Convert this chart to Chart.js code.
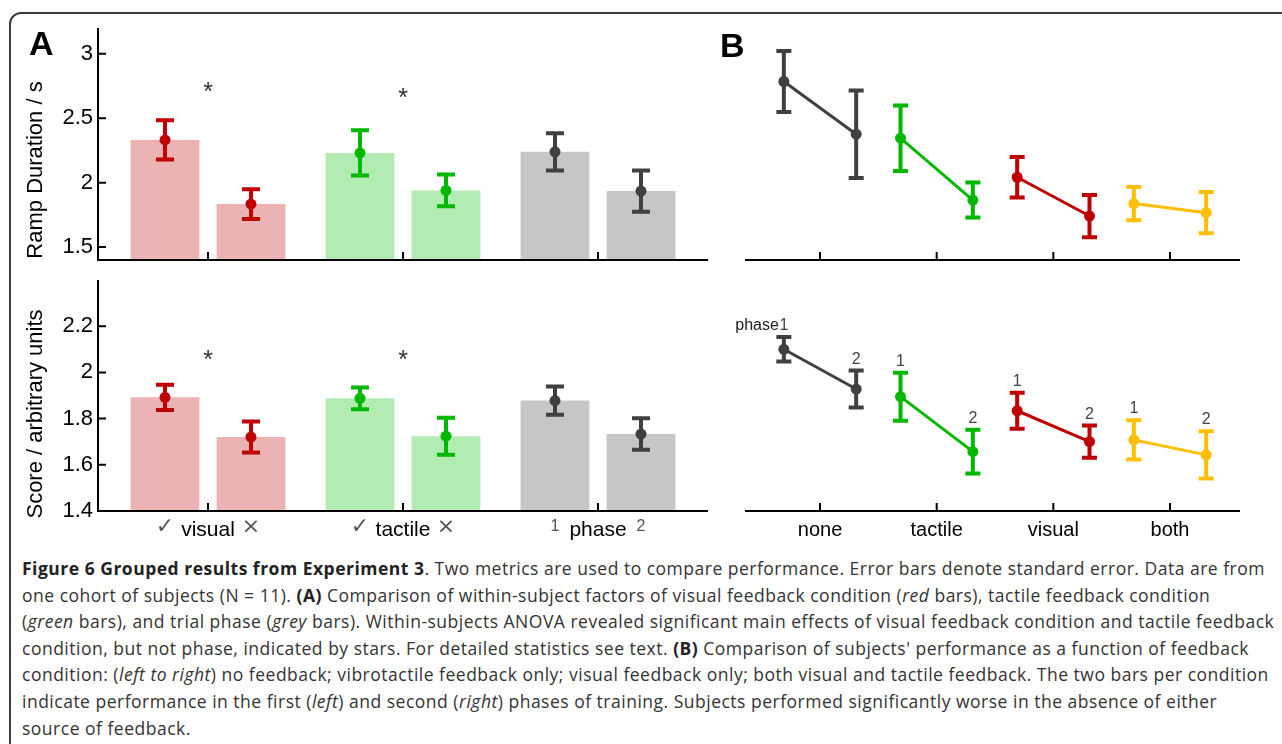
<!DOCTYPE html>
<html>
<head>
<meta charset="utf-8">
<script src="https://cdn.jsdelivr.net/npm/chart.js@4.4.0/dist/chart.umd.min.js"></script>
<style>
  html, body { margin: 0; padding: 0; background: #fff; overflow: hidden; }
  #fig { position: relative; width: 1282px; height: 744px; overflow: hidden; background: #fff; }
  #frame { position: absolute; left: 9px; top: 12px; width: 1300px; height: 745px; border: 2px solid #3a3a3a; border-radius: 12px; }
  canvas { position: absolute; }
  .panel { position: absolute; font: bold 34px "Liberation Sans", Arial, sans-serif; line-height: 34px; color: #000; }
  #caption { position: absolute; left: 22px; top: 555px; font: 17.5px "Open Sans", sans-serif; line-height: 26.6px; letter-spacing: 0.5px; color: #333; white-space: nowrap; }
  #caption b { color: #222; }
</style>
</head>
<body>
<div id="fig">
  <div id="frame"></div>
  <canvas id="a1" width="720" height="303" style="left:0;top:-3px"></canvas>
  <canvas id="a2" width="720" height="304" style="left:0;top:240px"></canvas>
  <canvas id="b1" width="562" height="270" style="left:720px;top:0"></canvas>
  <canvas id="b2" width="562" height="274" style="left:720px;top:270px"></canvas>
  <div class="panel" style="left:29px;top:26px">A</div>
  <div class="panel" style="left:720px;top:28px">B</div>
  <div id="caption">
<b>Figure 6 Grouped results from Experiment 3</b>. Two metrics are used to compare performance. Error bars denote standard error. Data are from<br>
one cohort of subjects (N = 11). <b>(A)</b> Comparison of within-subject factors of visual feedback condition (<i>red</i> bars), tactile feedback condition<br>
(<i>green</i> bars), and trial phase (<i>grey</i> bars). Within-subjects ANOVA revealed significant main effects of visual feedback condition and tactile feedback<br>
condition, but not phase, indicated by stars. For detailed statistics see text. <b>(B)</b> Comparison of subjects' performance as a function of feedback<br>
condition: (<i>left to right</i>) no feedback; vibrotactile feedback only; visual feedback only; both visual and tactile feedback. The two bars per condition<br>
indicate performance in the first (<i>left</i>) and second (<i>right</i>) phases of training. Subjects performed significantly worse in the absence of either<br>
source of feedback.
  </div>
</div>
<script>
// Panel A: grouped factors
const groupLabels = ['visual', 'tactile', 'phase'];
const firstMarks = ['\u2713', '\u2713', '1'];
const secondMarks = ['\u00d7', '\u00d7', '2'];

const rampFirst = [2.332, 2.231, 2.239];
const rampFirstErr = [0.152, 0.175, 0.145];
const rampSecond = [1.834, 1.94, 1.935];
const rampSecondErr = [0.115, 0.123, 0.16];
const rampStars = [2.75, 2.70, null];
const rampTicks = [1.5, 2, 2.5, 3];

const scoreFirst = [1.892, 1.888, 1.878];
const scoreFirstErr = [0.055, 0.047, 0.061];
const scoreSecond = [1.72, 1.724, 1.733];
const scoreSecondErr = [0.067, 0.08, 0.068];
const scoreStars = [2.08, 2.078, null];
const scoreTicks = [1.4, 1.6, 1.8, 2, 2.2];

// Panel B: feedback conditions, phase 1 and phase 2
const conditions = ['none', 'tactile', 'visual', 'both'];
const rampPhase1 = [2.785, 2.345, 2.042, 1.838];
const rampPhase1Err = [0.237, 0.254, 0.157, 0.129];
const rampPhase2 = [2.376, 1.865, 1.741, 1.767];
const rampPhase2Err = [0.34, 0.136, 0.164, 0.16];

const scorePhase1 = [2.10, 1.895, 1.834, 1.708];
const scorePhase1Err = [0.053, 0.104, 0.078, 0.085];
const scorePhase2 = [1.928, 1.657, 1.70, 1.643];
const scorePhase2Err = [0.08, 0.095, 0.07, 0.102];

const barColors = ['#ebb3b3', '#b3ecb3', '#c6c6c6'];
const markColors = ['#c00000', '#00b800', '#404040'];
const conditionColors = ['#404040', '#00b800', '#c00000', '#ffbf00'];
const PHASE_SHIFT = 0.31;
const FONT = '"Liberation Sans", Arial, sans-serif';

// axis lines (drawn a bit wider than the plot area) and inward tick marks
const axisTicks = {
  id: 'axisTicks',
  afterDraw(chart, args, opts) {
    const ctx = chart.ctx, a = chart.chartArea, inset = opts.inset || 0;
    const left = a.left - inset;
    ctx.save();
    ctx.strokeStyle = '#000';
    ctx.lineWidth = 2;
    ctx.beginPath();
    ctx.moveTo(left, a.bottom); ctx.lineTo(a.right + inset, a.bottom);
    const y = chart.scales.y;
    if (y.options.display) {
      ctx.moveTo(left, a.top); ctx.lineTo(left, a.bottom + 1);
      y.ticks.forEach((t, i) => {
        const py = y.getPixelForTick(i);
        ctx.moveTo(left, py); ctx.lineTo(left + 8, py);
      });
    }
    const x = chart.scales.x;
    x.ticks.forEach((t, i) => {
      const px = x.getPixelForTick(i);
      ctx.moveTo(px, a.bottom); ctx.lineTo(px, a.bottom - 8);
    });
    ctx.stroke();
    ctx.restore();
  }
};

// error bars (+ dots for bar charts)
const errorBars = {
  id: 'errorBars',
  afterDatasetsDraw(chart, args, opts) {
    const ctx = chart.ctx, y = chart.scales.y;
    ctx.save();
    chart.data.datasets.forEach((ds, d) => {
      const meta = chart.getDatasetMeta(d);
      meta.data.forEach((el, i) => {
        const v = meta.controller.getParsed(i).y;
        const e = ds.errors[i];
        const col = Array.isArray(ds.errorColor) ? ds.errorColor[i] : ds.errorColor;
        const top = y.getPixelForValue(v + e), bot = y.getPixelForValue(v - e);
        const cap = opts.cap;
        ctx.strokeStyle = col;
        ctx.lineWidth = 4;
        ctx.beginPath();
        ctx.moveTo(el.x, top); ctx.lineTo(el.x, bot);
        ctx.moveTo(el.x - cap, top); ctx.lineTo(el.x + cap, top);
        ctx.moveTo(el.x - cap, bot); ctx.lineTo(el.x + cap, bot);
        ctx.stroke();
        if (opts.dots) {
          ctx.fillStyle = col;
          ctx.beginPath(); ctx.arc(el.x, y.getPixelForValue(v), 5.5, 0, Math.PI * 2); ctx.fill();
        }
      });
    });
    ctx.restore();
  }
};

// rotated y title, stars, marks under bars, phase numbers
const extras = {
  id: 'extras',
  afterDraw(chart, args, opts) {
    const ctx = chart.ctx, a = chart.chartArea, x = chart.scales.x, y = chart.scales.y;
    ctx.save();
    if (opts.title) {
      ctx.translate(36, opts.titleY);
      ctx.rotate(-Math.PI / 2);
      ctx.fillStyle = '#000';
      ctx.font = '22px ' + FONT;
      ctx.textAlign = 'center';
      ctx.textBaseline = 'middle';
      ctx.fillText(opts.title, 0, 0);
      ctx.setTransform(1, 0, 0, 1, 0, 0);
    }
    if (opts.stars) {
      ctx.fillStyle = '#333';
      ctx.font = '25px ' + FONT;
      ctx.textAlign = 'center';
      ctx.textBaseline = 'alphabetic';
      opts.stars.forEach((v, i) => {
        if (v == null) return;
        ctx.fillText('*', x.getPixelForTick(i), y.getPixelForValue(v) + 14);
      });
    }
    if (opts.marks) {
      ctx.fillStyle = '#555';
      ctx.textAlign = 'center';
      ctx.textBaseline = 'middle';
      opts.marks.forEach((list, d) => {
        const meta = chart.getDatasetMeta(d);
        list.forEach((m, i) => {
          ctx.font = (/\d/.test(m) ? '16px ' + FONT : '22px "DejaVu Sans", sans-serif');
          ctx.fillText(m, meta.data[i].x, a.bottom + 16);
        });
      });
    }
    if (opts.phaseLabels) {
      ctx.fillStyle = '#444';
      ctx.font = '16px ' + FONT;
      ctx.textBaseline = 'alphabetic';
      chart.data.datasets.forEach((ds, d) => {
        const meta = chart.getDatasetMeta(d);
        meta.data.forEach((el, i) => {
          const v = meta.controller.getParsed(i).y;
          const py = y.getPixelForValue(v + ds.errors[i]) - 7;
          ctx.textAlign = 'center';
          ctx.fillText(opts.phaseLabels[i], el.x, py);
          if (d === 0 && i === 0) {
            ctx.fillStyle = '#222';
            ctx.textAlign = 'right';
            ctx.fillText(opts.prefix, el.x - 5, py);
            ctx.fillStyle = '#444';
          }
        });
      });
    }
    ctx.restore();
  }
};

// pad.top / axisHeight keep the plot area where the original has it
function barChart(id, first, firstErr, second, secondErr, stars, ticks, yMin, yMax, title, titleY, withLabels, pad) {
  const inset = 12.5;
  new Chart(document.getElementById(id), {
    type: 'bar',
    data: {
      labels: groupLabels,
      datasets: [
        { data: first, errors: firstErr, backgroundColor: barColors, errorColor: markColors,
          categoryPercentage: 0.882, barPercentage: 0.8 },
        { data: second, errors: secondErr, backgroundColor: barColors, errorColor: markColors,
          categoryPercentage: 0.882, barPercentage: 0.8 }
      ]
    },
    options: {
      responsive: false,
      animation: false,
      layout: { padding: { left: 0, right: 24.5, top: pad.top, bottom: 0 } },
      plugins: {
        legend: { display: false },
        tooltip: { enabled: false },
        errorBars: { cap: 9, dots: true },
        axisTicks: { inset: inset },
        extras: { title: title, titleY: titleY, stars: stars,
                  marks: withLabels ? [firstMarks, secondMarks] : null }
      },
      scales: {
        x: {
          grid: { display: false, drawTicks: false },
          border: { display: false },
          ticks: { display: withLabels, color: '#000', font: { family: FONT, size: 21 }, padding: 7 },
          afterFit: s => { s.height = pad.axisHeight; }
        },
        y: {
          min: yMin, max: yMax,
          afterBuildTicks: s => { s.ticks = ticks.map(v => ({ value: v })); },
          afterFit: s => { s.width = 98 + inset; },
          grid: { display: false, drawTicks: false },
          border: { display: false },
          ticks: { color: '#000', font: { family: FONT, size: 22 }, padding: 5 + inset, callback: v => String(v) }
        }
      }
    },
    plugins: [errorBars, axisTicks, extras]
  });
}

function lineChart(id, phase1, phase1Err, phase2, phase2Err, yMin, yMax, withLabels) {
  new Chart(document.getElementById(id), {
    type: 'line',
    data: {
      datasets: conditions.map((c, i) => ({
        label: c,
        data: [{ x: i - PHASE_SHIFT, y: phase1[i] }, { x: i + PHASE_SHIFT, y: phase2[i] }],
        errors: [phase1Err[i], phase2Err[i]],
        errorColor: conditionColors[i],
        borderColor: conditionColors[i],
        backgroundColor: conditionColors[i],
        borderWidth: 3,
        pointRadius: 5.5,
        pointBorderWidth: 0,
        tension: 0
      }))
    },
    options: {
      responsive: false,
      animation: false,
      layout: { padding: { left: 25, right: 42, top: withLabels ? 10 : 28, bottom: withLabels ? 0 : 10 } },
      plugins: {
        legend: { display: false },
        tooltip: { enabled: false },
        errorBars: { cap: 7.5, dots: false },
        axisTicks: { inset: 0 },
        extras: withLabels ? { phaseLabels: ['1', '2'], prefix: 'phase' } : {}
      },
      scales: {
        x: {
          type: 'linear',
          min: -0.643, max: 3.6,
          afterBuildTicks: s => { s.ticks = conditions.map((c, i) => ({ value: i })); },
          grid: { display: false, drawTicks: false },
          border: { display: false },
          ticks: { display: withLabels, color: '#000', font: { family: FONT, size: 20 }, padding: 7,
                   callback: v => conditions[v] },
          afterFit: s => { s.height = withLabels ? 33 : 0; }
        },
        y: { display: false, min: yMin, max: yMax }
      }
    },
    plugins: [errorBars, axisTicks, extras]
  });
}

barChart('a1', rampFirst, rampFirstErr, rampSecond, rampSecondErr, rampStars, rampTicks, 1.4, 3.2,
         'Ramp Duration / s', 173, false, { top: 31, axisHeight: 40 });
barChart('a2', scoreFirst, scoreFirstErr, scoreSecond, scoreSecondErr, scoreStars, scoreTicks, 1.4, 2.4,
         'Score / arbitrary units', 174, true, { top: 40, axisHeight: 33 });
lineChart('b1', rampPhase1, rampPhase1Err, rampPhase2, rampPhase2Err, 1.4, 3.2, false);
lineChart('b2', scorePhase1, scorePhase1Err, scorePhase2, scorePhase2Err, 1.4, 2.4, true);
</script>
</body>
</html>
